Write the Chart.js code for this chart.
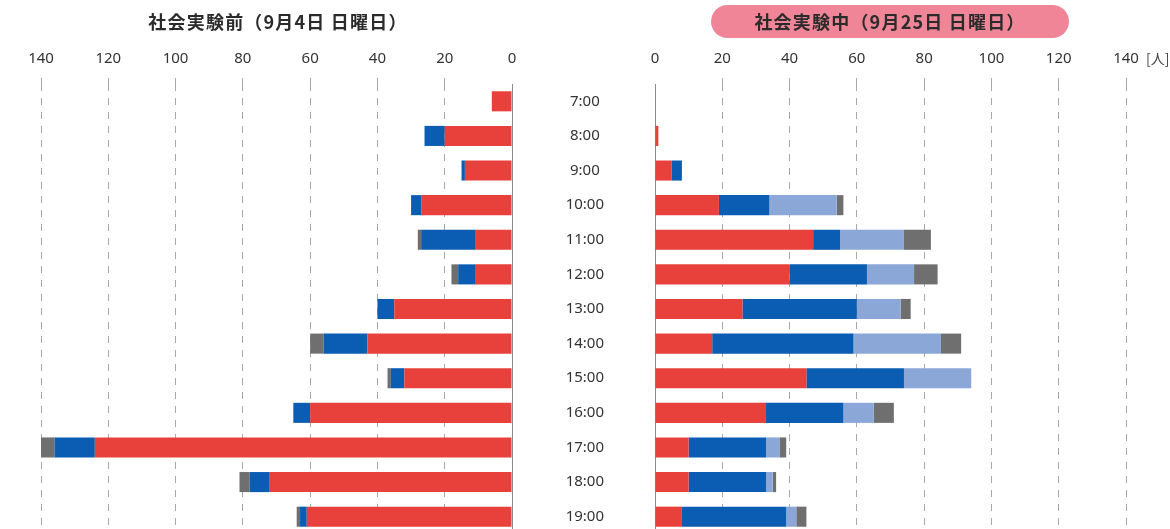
<!DOCTYPE html>
<html>
<head>
<meta charset="utf-8">
<script src="https://cdn.jsdelivr.net/npm/chart.js@4"></script>
<style>
  html, body { margin: 0; padding: 0; background: #fff; overflow: hidden; }
  body { width: 1170px; height: 529px; position: relative; font-family: "Noto Sans CJK JP", "Noto Sans", sans-serif; }
  .box { position: absolute; top: 0; height: 540px; }
  .title { position: absolute; font-weight: bold; font-size: 18px; letter-spacing: 1.2px; color: #2b2b2b; text-align: center; }
  #titleL { left: 100px; width: 356px; top: 8px; }
  #titleR { left: 711px; width: 358px; top: 5px; height: 33px; line-height: 33px; background: #ef8597; border-radius: 17px; }
  #unit { position: absolute; left: 1146px; top: 48px; font-size: 14px; color: #444; }
</style>
</head>
<body>
<div class="box" style="left:0;width:560px"><canvas id="leftChart"></canvas></div>
<div class="box" style="left:511px;width:659px"><canvas id="rightChart"></canvas></div>
<div class="title" id="titleL">社会実験前（9月4日 日曜日）</div>
<div class="title" id="titleR">社会実験中（9月25日 日曜日）</div>
<div id="unit">[人]</div>
<script>
// 時間帯
var horas = ['7:00', '8:00', '9:00', '10:00', '11:00', '12:00', '13:00', '14:00', '15:00', '16:00', '17:00', '18:00', '19:00'];
var tickLabels = [0, 20, 40, 60, 80, 100, 120, 140];

// 社会実験前（9月4日）
var antesRojo   = [6, 20, 14, 27, 11, 11, 35, 43, 32, 60, 124, 72, 61];
var antesAzul   = [0, 6, 1, 3, 16, 5, 5, 13, 4, 5, 12, 6, 2];
var antesCeleste = [0, 0, 0, 0, 0, 0, 0, 0, 0, 0, 0, 0, 0];
var antesGris   = [0, 0, 0, 0, 1, 2, 0, 4, 1, 0, 6, 3, 1];

// 社会実験中（9月25日）
var duranteRojo    = [0, 1, 5, 19, 47, 40, 26, 17, 45, 33, 10, 10, 8];
var duranteAzul    = [0, 0, 3, 15, 8, 23, 34, 42, 29, 23, 23, 23, 31];
var duranteCeleste = [0, 0, 0, 20, 19, 14, 13, 26, 20, 9, 4, 2, 3];
var duranteGris    = [0, 0, 0, 2, 8, 7, 3, 6, 0, 6, 2, 1, 3];

var colores = ['#e8403a', '#0a5db3', '#8aa7d8', '#6f6f6f'];
var fuente = { family: '"Noto Sans", sans-serif', size: 15, weight: 'normal' };

function series(arrs) {
  return arrs.map(function (d, i) {
    return { data: d, backgroundColor: colores[i], borderWidth: 0,
             barPercentage: 0.58, categoryPercentage: 1 };
  });
}

function xScale(reverse) {
  return {
    type: 'linear', position: 'top', stacked: true, reverse: reverse,
    min: 0, max: 140,
    afterBuildTicks: function (s) { s.ticks = tickLabels.map(function (v) { return { value: v }; }); },
    afterFit: function (s) { s.height = 34; },
    ticks: { color: '#333', font: fuente, padding: 10 },
    grid: {
      color: function (c) { return c.tick && c.tick.value === 0 ? 'rgba(0,0,0,0)' : '#a8a8a8'; },
      lineWidth: 1, tickLength: 6, tickBorderDash: [7, 7]
    },
    border: { display: false, dash: [7, 7] }
  };
}

// 左のグラフ（反転）
new Chart(document.getElementById('leftChart').getContext('2d'), {
  type: 'bar',
  data: { labels: horas, datasets: series([antesRojo, antesAzul, antesCeleste, antesGris]) },
  options: {
    indexAxis: 'y', responsive: true, maintainAspectRatio: false, animation: false,
    layout: { padding: { left: 41, right: 48, top: 50, bottom: 6 } },
    plugins: { legend: { display: false }, tooltip: { enabled: false } },
    scales: {
      x: xScale(true),
      y: {
        position: 'right', stacked: true,
        ticks: { display: false },
        grid: { display: false, drawTicks: false },
        border: { display: true, color: '#8a8a8a', width: 1 },
        afterFit: function (s) { s.width = 0; s.paddingTop = 0; s.paddingBottom = 0; }
      }
    }
  }
});

// 右のグラフ
new Chart(document.getElementById('rightChart').getContext('2d'), {
  type: 'bar',
  data: { labels: horas, datasets: series([duranteRojo, duranteAzul, duranteCeleste, duranteGris]) },
  options: {
    indexAxis: 'y', responsive: true, maintainAspectRatio: false, animation: false,
    layout: { padding: { left: 0, right: 44, top: 50, bottom: 6 } },
    plugins: { legend: { display: false }, tooltip: { enabled: false } },
    scales: {
      x: xScale(false),
      y: {
        position: 'left', stacked: true,
        ticks: { color: '#333', font: fuente, padding: 51, crossAlign: 'center' },
        grid: { display: false, drawTicks: false },
        border: { display: true, color: '#8a8a8a', width: 1 },
        afterFit: function (s) { s.width = 144; s.paddingTop = 0; s.paddingBottom = 0; }
      }
    }
  }
});
</script>
</body>
</html>
